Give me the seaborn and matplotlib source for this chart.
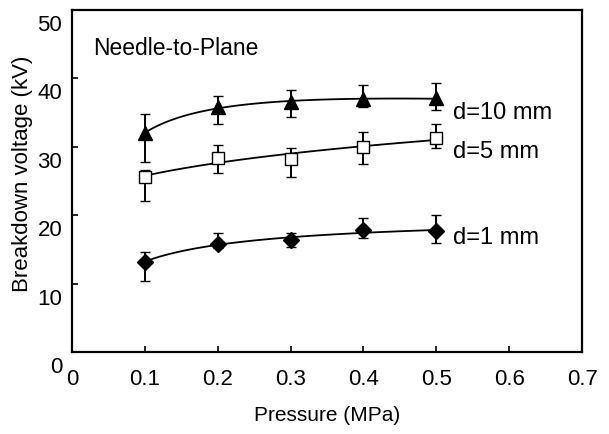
import numpy as np
import pandas as pd
import matplotlib
matplotlib.use("Agg")
import matplotlib.pyplot as plt
import matplotlib.transforms as mtransforms
import seaborn as sns

# data
pressure = [0.1, 0.2, 0.3, 0.4, 0.5]
v_10mm = [32.0, 35.8, 36.5, 37.0, 37.1]
lo_10mm = [4.2, 2.5, 2.2, 1.2, 1.7]
hi_10mm = [2.8, 1.6, 1.8, 2.0, 2.2]
v_5mm = [25.6, 28.4, 28.2, 30.0, 31.3]
lo_5mm = [3.6, 2.3, 2.6, 2.5, 1.5]
hi_5mm = [1.0, 1.9, 1.6, 2.2, 2.0]
v_1mm = [13.2, 15.8, 16.4, 17.8, 17.7]
lo_1mm = [2.8, 0.6, 1.0, 1.1, 1.8]
hi_1mm = [1.4, 1.6, 1.0, 1.8, 2.3]
labels = ['d=10 mm', 'd=5 mm', 'd=1 mm']
label_y = [34.9, 29.2, 16.7]

sns.set_style("ticks")
plt.rcParams['font.family'] = ['Liberation Sans', 'DejaVu Sans']
plt.rcParams['text.color'] = 'black'
plt.rcParams['axes.labelcolor'] = 'black'
plt.rcParams['xtick.color'] = 'black'
plt.rcParams['ytick.color'] = 'black'

fig = plt.figure(figsize=(6.09, 4.34), dpi=100)
ax = fig.add_axes([0.118, 0.189, 0.838, 0.788])

series = [
    (v_10mm, lo_10mm, hi_10mm, '^', 'black', 10),
    (v_5mm, lo_5mm, hi_5mm, 's', 'white', 9),
    (v_1mm, lo_1mm, hi_1mm, 'D', 'black', 8.5),
]

xs = np.array(pressure)
for vals, lo, hi, mk, fc, ms in series:
    # smooth trend line through the data (quadratic fit in log pressure)
    coef = np.polyfit(np.log(xs), vals, 2)
    xf = np.linspace(0.1, 0.5, 100)
    fit = pd.DataFrame({'x': xf, 'y': np.polyval(coef, np.log(xf))})
    sns.lineplot(data=fit, x='x', y='y', ax=ax, color='black', lw=1.3)
    ax.errorbar(pressure, vals, yerr=[lo, hi], fmt=mk, color='black', mfc=fc,
                mec='black', ms=ms, mew=1.0, elinewidth=1.4, capsize=3.5,
                capthick=1.4, zorder=3)

for lab, ly in zip(labels, label_y):
    ax.text(0.523, ly, lab, fontsize=17, va='center', ha='left')
ax.text(0.029, 44.4, 'Needle-to-Plane', fontsize=16.5, va='center', ha='left')

ax.set_xlim(0, 0.7)
ax.set_ylim(0, 50)
ax.set_xticks([0, 0.1, 0.2, 0.3, 0.4, 0.5, 0.6, 0.7])
ax.set_xticklabels(['0', '0.1', '0.2', '0.3', '0.4', '0.5', '0.6', '0.7'])
ax.set_yticks([0, 10, 20, 30, 40, 50])
ax.tick_params(direction='in', labelsize=16, length=4, width=1.2,
               colors='black')
ax.tick_params(axis='x', pad=12)
ax.tick_params(axis='y', pad=7)
# y tick labels sit a little below their ticks in the reference
shift = mtransforms.ScaledTranslation(0, -0.13, fig.dpi_scale_trans)
for t in ax.get_yticklabels():
    t.set_transform(t.get_transform() + shift)
ax.set_xlabel('Pressure (MPa)', fontsize=15, labelpad=12)
ax.set_ylabel('Breakdown voltage (kV)', fontsize=16)
ax.yaxis.set_label_coords(-0.076, 0.52)
for s in ax.spines.values():
    s.set_linewidth(1.6)
    s.set_color('black')

fig.savefig('out.png', dpi=100)
